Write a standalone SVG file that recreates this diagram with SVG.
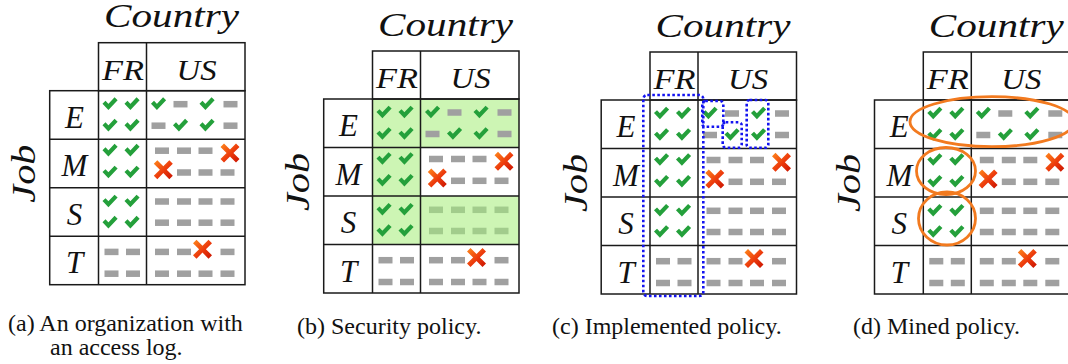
<svg xmlns="http://www.w3.org/2000/svg" xmlns:xlink="http://www.w3.org/1999/xlink" width="1068" height="364" viewBox="0 0 1068 364">
<style>
.m{font-family:'Liberation Serif','DejaVu Serif',serif;font-style:italic;fill:#111}
.cty{font-size:34px;text-anchor:middle}
.hd{font-size:30px;text-anchor:middle}
.rl{font-size:31px;text-anchor:middle}
.cap{font-family:'Liberation Serif','DejaVu Serif',serif;font-size:24px;fill:#111}
.grid{fill:none;stroke:#1a1a1a;stroke-width:1.5}
.dot{fill:none;stroke:#1414f0;stroke-width:2.6;stroke-dasharray:2.6 2.4}
.ell{fill:none;stroke:#f27a1f;stroke-width:2.8}
</style>
<defs>
<linearGradient id="xg" x1="0" y1="0" x2="1" y2="1">
<stop offset="0" stop-color="#ff8a1c"/>
<stop offset="0.55" stop-color="#ec3a0c"/>
<stop offset="1" stop-color="#c81200"/>
</linearGradient>
<path id="ck" d="M-6,-0.9 L-1.6,3.7 L6.1,-4.4" fill="none" stroke="#24a03b" stroke-width="4.2"/>
<rect id="ds" x="-7" y="-3.25" width="14" height="6.5"/>
<polygon id="xx" points="-9.5,-6 -6,-9.5 0,-3.4 6,-9.5 9.5,-6 3.4,0 9.5,6 6,9.5 0,3.4 -6,9.5 -9.5,6 -3.4,0" fill="url(#xg)"/>
<g id="grid">
<rect class="grid" x="0" y="0" width="146.5" height="48"/>
<rect class="grid" x="-48.8" y="48" width="195.3" height="194"/>
<line class="grid" x1="48" y1="0" x2="48" y2="242"/>
<line class="grid" x1="0" y1="48" x2="0" y2="242"/>
<line class="grid" x1="-48.8" y1="96.5" x2="146.5" y2="96.5"/>
<line class="grid" x1="-48.8" y1="145" x2="146.5" y2="145"/>
<line class="grid" x1="-48.8" y1="193.5" x2="146.5" y2="193.5"/>
</g>
<g id="labels" font-family="'Liberation Serif','DejaVu Serif',serif" font-style="italic">
<text class="m cty" x="73" y="-15.5" textLength="135" lengthAdjust="spacingAndGlyphs">Country</text>
<text class="m hd" x="24.5" y="37.3" textLength="42" lengthAdjust="spacingAndGlyphs">FR</text>
<text class="m hd" x="98" y="37.3" textLength="40" lengthAdjust="spacingAndGlyphs">US</text>
<text class="m rl" x="-24" y="85">E</text>
<text class="m rl" x="-24" y="133.5">M</text>
<text class="m rl" x="-24" y="182">S</text>
<text class="m rl" x="-24" y="230.5">T</text>
<text class="m cty" transform="translate(-63.5,131) rotate(-90)" textLength="58" lengthAdjust="spacingAndGlyphs">Job</text>
</g>
<g id="marks" fill="#a0a0a0">
<use href="#ck" x="11.5" y="60.5"/><use href="#ck" x="33.5" y="60.5"/>
<use href="#ck" x="11.5" y="82"/><use href="#ck" x="33.5" y="82"/>
<use href="#ck" x="11.5" y="107"/><use href="#ck" x="33.5" y="107"/>
<use href="#ck" x="11.5" y="128.8"/><use href="#ck" x="33.5" y="128.8"/>
<use href="#ck" x="11.5" y="157.8"/><use href="#ck" x="33.5" y="157.8"/>
<use href="#ck" x="11.5" y="179"/><use href="#ck" x="33.5" y="179"/>
<use href="#ds" x="13" y="209.2"/><use href="#ds" x="34.5" y="209.2"/>
<use href="#ds" x="13" y="231"/><use href="#ds" x="34.5" y="231"/>
<use href="#ck" x="60" y="60.5"/><use href="#ds" x="82" y="61.5"/><use href="#ck" x="108.5" y="60.5"/><use href="#ds" x="132" y="61.5"/>
<use href="#ds" x="60" y="83"/><use href="#ck" x="82" y="82"/><use href="#ck" x="108.5" y="82"/><use href="#ds" x="132" y="83"/>
<use href="#ds" x="63.5" y="108"/><use href="#ds" x="85.5" y="108"/><use href="#ds" x="107" y="108"/><use href="#xx" x="131.5" y="110.3"/>
<use href="#xx" x="64.8" y="127"/><use href="#ds" x="85.5" y="129.8"/><use href="#ds" x="107" y="129.8"/><use href="#ds" x="129" y="129.8"/>
<use href="#ds" x="63.5" y="209.2"/><use href="#ds" x="85.5" y="209.2"/><use href="#xx" x="104" y="206.5"/><use href="#ds" x="129" y="209.2"/>
<use href="#ds" x="63.5" y="231"/><use href="#ds" x="85.5" y="231"/><use href="#ds" x="107" y="231"/><use href="#ds" x="129" y="231"/>
</g>
<g id="sus">
<use href="#ds" x="63.5" y="158.8"/><use href="#ds" x="85.5" y="158.8"/><use href="#ds" x="107" y="158.8"/><use href="#ds" x="129" y="158.8"/>
<use href="#ds" x="63.5" y="180"/><use href="#ds" x="85.5" y="180"/><use href="#ds" x="107" y="180"/><use href="#ds" x="129" y="180"/>
</g>
</defs>
<rect width="1068" height="364" fill="#fff"/>

<g id="panel-a" transform="translate(98.5,42.7)">
<use href="#grid"/>
<use href="#labels"/>
<use href="#marks"/>
<use href="#sus" fill="#a0a0a0"/>
</g>

<g id="panel-b" transform="translate(372.5,51)">
<g id="security-policy" fill="#cdf5b4">
<rect x="0" y="48" width="48" height="145.5"/>
<rect x="48" y="48" width="98.5" height="48.5"/>
<rect x="48" y="145" width="98.5" height="48.5"/>
</g>
<use href="#grid"/>
<use href="#labels"/>
<use href="#marks"/>
<use href="#sus" fill="#a2cc8c"/>
</g>

<g id="panel-c" transform="translate(650,52)">
<use href="#grid"/>
<use href="#labels"/>
<use href="#marks"/>
<use href="#sus" fill="#a0a0a0"/>
<g id="implemented-policy">
<rect class="dot" x="-6.7" y="43" width="60" height="201" rx="4"/>
<rect class="dot" x="52.3" y="49" width="21" height="25.7" rx="3"/>
<rect class="dot" x="72.7" y="70.3" width="19" height="25.4" rx="3"/>
<rect class="dot" x="96.7" y="48" width="21.6" height="47.7" rx="3"/>
</g>
</g>

<g id="panel-d" transform="translate(923.3,52)">
<use href="#grid"/>
<use href="#labels"/>
<use href="#marks"/>
<use href="#sus" fill="#a0a0a0"/>
<g id="mined-policy">
<ellipse class="ell" cx="68.7" cy="69.7" rx="82" ry="25"/>
<ellipse class="ell" cx="22.7" cy="119" rx="29.5" ry="23.5"/>
<ellipse class="ell" cx="23.7" cy="166.5" rx="28.5" ry="26.5"/>
</g>
</g>

<g id="captions" font-family="'Liberation Serif','DejaVu Serif',serif">
<text class="cap" x="8" y="331">(a) An organization with</text>
<text class="cap" x="50" y="355">an access log.</text>
<text class="cap" x="297" y="334">(b) Security policy.</text>
<text class="cap" x="552" y="334">(c) Implemented policy.</text>
<text class="cap" x="853" y="334">(d) Mined policy.</text>
</g>
</svg>
